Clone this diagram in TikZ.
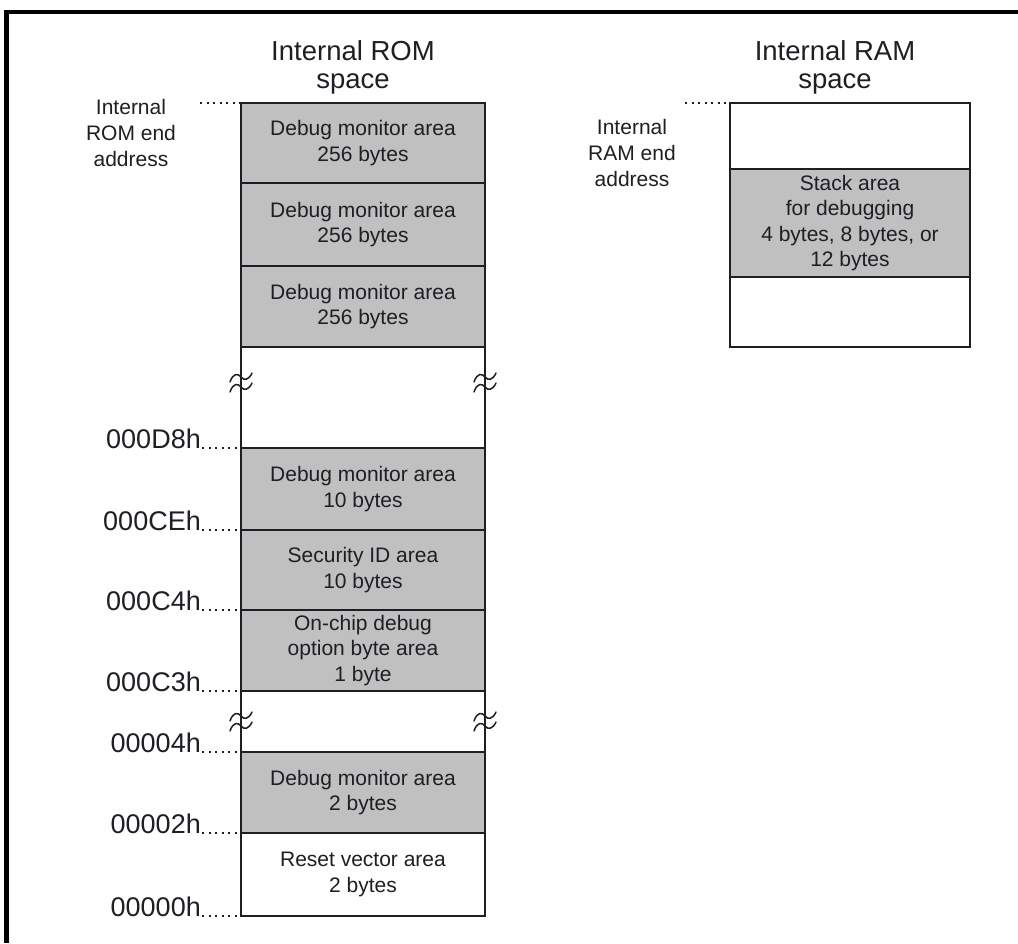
\documentclass[tikz,border=0pt]{standalone}
\usepackage{fontspec}
\setmainfont{Liberation Sans}
\usepackage{tikz}
\usetikzlibrary{positioning,calc}
\definecolor{cOut}{HTML}{1E1E24}
\definecolor{cArea}{HTML}{C0C0C0}
\tikzset{
  map/cell/.style={draw=cOut, line width=1.8pt, fill=white, outer sep=0pt,
                   inner sep=0pt, minimum width=244pt, align=center,
                   font=\fontsize{21}{25.5}\selectfont, text=cOut},
  map/area/.style={map/cell, fill=cArea},
  map/ramcell/.style={map/cell, minimum width=240pt},
  map/ramarea/.style={map/area, minimum width=240pt},
  map/title/.style={font=\fontsize{27.5}{28}\selectfont, align=center,
                    inner sep=0pt, text=cOut},
  map/addr/.style={font=\fontsize{27}{28}\selectfont, inner sep=0pt,
                   anchor=base east, text=cOut},
  map/side/.style={font=\fontsize{21}{26}\selectfont, align=center,
                   inner sep=0pt, text=cOut},
  map/dots/.style={line width=1.6pt, dash pattern=on 2pt off 4.5pt, cOut},
  map/frame/.style={line width=4.5pt, black},
  map/brk/.pic={
    \draw[line width=1.5pt, cOut, line cap=round]
      (-11,1) .. controls (-8,10) and (-3,10) .. (0,6) .. controls (3,2) and (8,3) .. (11,10);
    \draw[line width=1.5pt, cOut, line cap=round]
      (-11,-9) .. controls (-8,0) and (-3,0) .. (0,-4) .. controls (3,-8) and (8,-7) .. (11,0);
  }
}

\begin{document}
\begin{tikzpicture}[x=1pt, y=1pt]
    \useasboundingbox (0,0) rectangle (1018,-943);

    % --- page frame ---
    \draw[map/frame] (6.5,-943) -- (6.5,-12) -- (1018,-12);

    % --- internal ROM column ---
    \node[map/area, anchor=north west, minimum height=80pt] (rom1) at (241,-103)
         {Debug monitor area\\256 bytes};
    \node[map/area, below=0pt of rom1, minimum height=83pt] (rom2)
         {Debug monitor area\\256 bytes};
    \node[map/area, below=0pt of rom2, minimum height=81pt] (rom3)
         {Debug monitor area\\256 bytes};
    \node[map/cell, below=0pt of rom3, minimum height=101pt] (rom4) {};
    \node[map/area, below=0pt of rom4, minimum height=82pt] (rom5)
         {Debug monitor area\\10 bytes};
    \node[map/area, below=0pt of rom5, minimum height=80pt] (rom6)
         {Security ID area\\10 bytes};
    \node[map/area, below=0pt of rom6, minimum height=81pt] (rom7)
         {On-chip debug\\option byte area\\1 byte};
    \node[map/cell, below=0pt of rom7, minimum height=61pt] (rom8) {};
    \node[map/area, below=0pt of rom8, minimum height=81pt] (rom9)
         {Debug monitor area\\2 bytes};
    \node[map/cell, below=0pt of rom9, minimum height=83pt] (rom10)
         {Reset vector area\\2 bytes};

    \node[map/title, above=9pt of rom1, xshift=-10pt] (romtitle)
         {Internal ROM\\space};

    % --- breaks in the ROM column ---
    \pic at ([yshift=-36pt]rom4.north west) {map/brk};
    \pic at ([yshift=-36pt]rom4.north east) {map/brk};
    \pic at ([yshift=-31pt]rom8.north west) {map/brk};
    \pic at ([yshift=-31pt]rom8.north east) {map/brk};

    % --- ROM addresses ---
    \node[map/side] (romend) at (131,-133) {Internal\\ROM end\\address};
    \coordinate (romendx) at ([xshift=-41pt]rom1.north west);
    \draw[map/dots] (romendx) -- (rom1.north west);

    \node[map/addr] (aD8) at ([xshift=-40pt]rom4.south west) {000D8h};
    \node[map/addr] (aCE) at ([xshift=-40pt]rom5.south west) {000CEh};
    \node[map/addr] (aC4) at ([xshift=-40pt]rom6.south west) {000C4h};
    \node[map/addr] (aC3) at ([xshift=-40pt]rom7.south west) {000C3h};
    \node[map/addr] (a04) at ([xshift=-40pt]rom8.south west) {00004h};
    \node[map/addr] (a02) at ([xshift=-40pt]rom9.south west) {00002h};
    \node[map/addr] (a00) at ([xshift=-40pt]rom10.south west) {00000h};
    \draw[map/dots] ([xshift=1pt]aD8.base east) -- (rom4.south west);
    \draw[map/dots] ([xshift=1pt]aCE.base east) -- (rom5.south west);
    \draw[map/dots] ([xshift=1pt]aC4.base east) -- (rom6.south west);
    \draw[map/dots] ([xshift=1pt]aC3.base east) -- (rom7.south west);
    \draw[map/dots] ([xshift=1pt]a04.base east) -- (rom8.south west);
    \draw[map/dots] ([xshift=1pt]a02.base east) -- (rom9.south west);
    \draw[map/dots] ([xshift=1pt]a00.base east) -- (rom10.south west);

    % --- internal RAM column ---
    \node[map/ramcell, anchor=north west, minimum height=66pt] (ram1) at (730,-103) {};
    \node[map/ramarea, below=0pt of ram1, minimum height=108pt] (ram2)
         {Stack area\\for debugging\\4 bytes, 8 bytes, or\\12 bytes};
    \node[map/ramcell, below=0pt of ram2, minimum height=70pt] (ram3) {};

    \node[map/title, above=9pt of ram1, xshift=-15pt] (ramtitle)
         {Internal RAM\\space};

    \node[map/side] (ramend) at (632,-153) {Internal\\RAM end\\address};
    \coordinate (ramendx) at ([xshift=-45pt]ram1.north west);
    \draw[map/dots] (ramendx) -- (ram1.north west);
\end{tikzpicture}
\end{document}
